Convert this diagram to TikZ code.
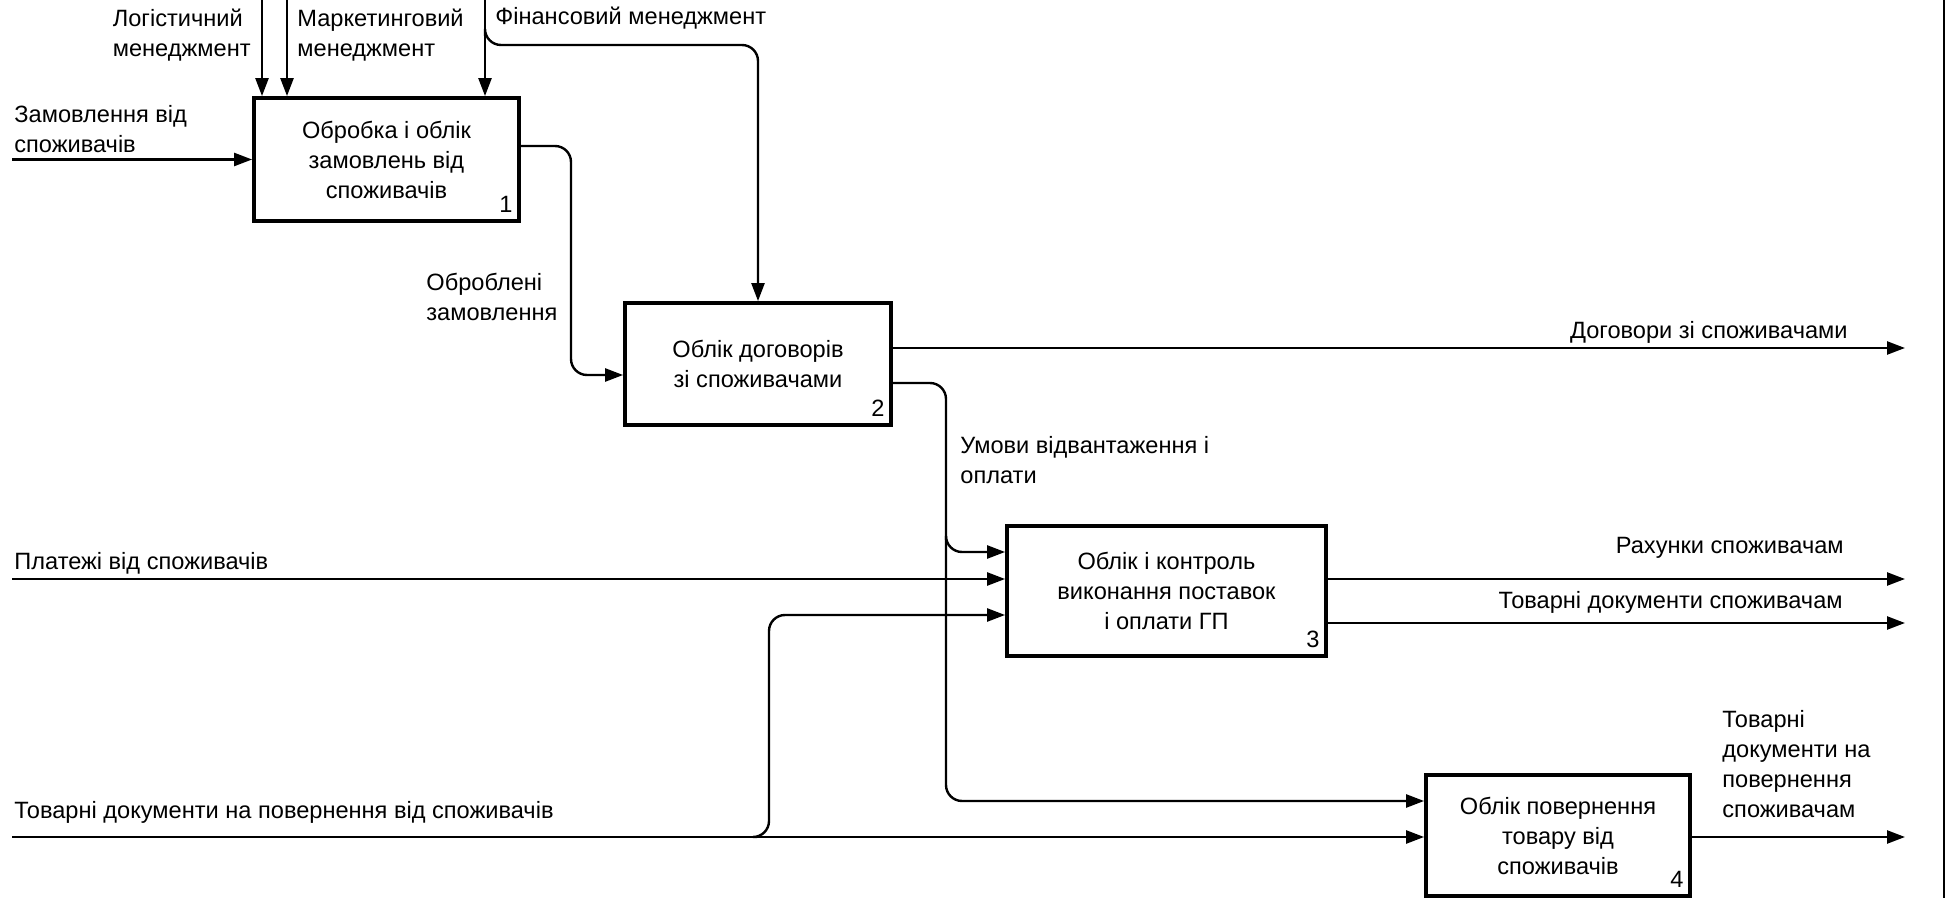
\documentclass[tikz,border=0pt]{standalone}
\usepackage{fontspec}
\setmainfont{Liberation Sans}
\usetikzlibrary{arrows.meta}

\tikzset{
  funcbox/.style={draw, line width=1.9pt, align=center, inner sep=0pt},
  boxnum/.style={anchor=south east, inner xsep=4pt, inner ysep=5pt},
  flow/.style={line width=1.2pt, -{Triangle[length=9pt,width=6.5pt]}},
  lbl/.style={inner sep=0pt, align=left}
}

\begin{document}
\begin{tikzpicture}[x=0.5pt,y=-0.5pt, font=\fontsize{11.8}{15}\selectfont]
        \useasboundingbox (0,0) rectangle (1950,898);

        % блоки
        \node[funcbox, minimum width=132.5pt, minimum height=61.5pt] (box1) at (386.5,159.5) {Обробка і облік\\замовлень від\\споживачів};
        \node[funcbox, minimum width=133pt, minimum height=61pt] (box2) at (758,364) {Облік договорів\\зі споживачами};
        \node[funcbox, minimum width=159.5pt, minimum height=65pt] (box3) at (1166.5,591) {Облік і контроль\\виконання поставок\\і оплати ГП};
        \node[funcbox, minimum width=132pt, minimum height=60.5pt] (box4) at (1558,835.5) {Облік повернення\\товару від\\споживачів};

        % номери блоків
        \node[boxnum] (n1) at (box1.south east) {1};
        \node[boxnum] (n2) at (box2.south east) {2};
        \node[boxnum] (n3) at (box3.south east) {3};
        \node[boxnum] (n4) at (box4.south east) {4};

        % входи
        \coordinate (in1) at (12,159.5);
        \coordinate (in2) at (12,579);
        \coordinate (in3) at (12,837);
        \draw[flow] (in1) -- (box1.west);
        \draw[flow] (in2) -- (box3.west |- in2);
        \draw[flow] (in3) -- (box4.west |- in3);

        % керування
        \coordinate (c1) at (262,0);
        \coordinate (c2) at (287,0);
        \coordinate (c3) at (485,0);
        \draw[flow] (c1) -- (c1 |- box1.north);
        \draw[flow] (c2) -- (c2 |- box1.north);
        \draw[flow] (c3) -- (c3 |- box1.north);
        \draw[flow, rounded corners=8] (485,36) |- (box2.north |- 0,45) -- (box2.north);

        % зв'язки між блоками
        \draw[flow, rounded corners=8] (box1.east |- 0,146) -| (571,375) -- (box2.west |- 0,375);
        \draw[flow, rounded corners=8] (box2.east |- 0,383) -| (946,801) -- (box4.west |- 0,801);
        \draw[flow, rounded corners=8] (946,540) |- (box3.west |- 0,552);
        \draw[flow, rounded corners=8] (757,837) -| (769,615) -- (box3.west |- 0,615);

        % виходи
        \coordinate (out1) at (1905,348);
        \coordinate (out2) at (1905,579);
        \coordinate (out3) at (1905,623);
        \coordinate (out4) at (1905,837);
        \draw[flow] (box2.east |- out1) -- (out1);
        \draw[flow] (box3.east |- out2) -- (out2);
        \draw[flow] (box3.east |- out3) -- (out3);
        \draw[flow] (box4.east |- out4) -- (out4);

        % межа
        \draw[line width=1.2pt] (1944,0) -- (1944,898);

        % підписи
        \node[lbl, anchor=west] (l1) at (14,129) {Замовлення від\\споживачів};
        \node[lbl, anchor=east] (l2) at (251,35) {Логістичний\\менеджмент};
        \node[lbl, anchor=west] (l3) at (297,35) {Маркетинговий\\менеджмент};
        \node[lbl, anchor=west] (l4) at (495,18) {Фінансовий менеджмент};
        \node[lbl, anchor=west] (l5) at (426,297) {Оброблені\\замовлення};
        \node[lbl, anchor=east] (l6) at (1848,332) {Договори зі споживачами};
        \node[lbl, anchor=west] (l7) at (960,460) {Умови відвантаження і\\оплати};
        \node[lbl, anchor=west] (l8) at (14,563) {Платежі від споживачів};
        \node[lbl, anchor=east] (l9) at (1844,548) {Рахунки споживачам};
        \node[lbl, anchor=east] (l10) at (1843,602) {Товарні документи споживачам};
        \node[lbl, anchor=west] (l11) at (14,812) {Товарні документи на повернення від споживачів};
        \node[lbl, anchor=west] (l12) at (1722,764) {Товарні\\документи на\\повернення\\споживачам};
    \end{tikzpicture}
\end{document}
